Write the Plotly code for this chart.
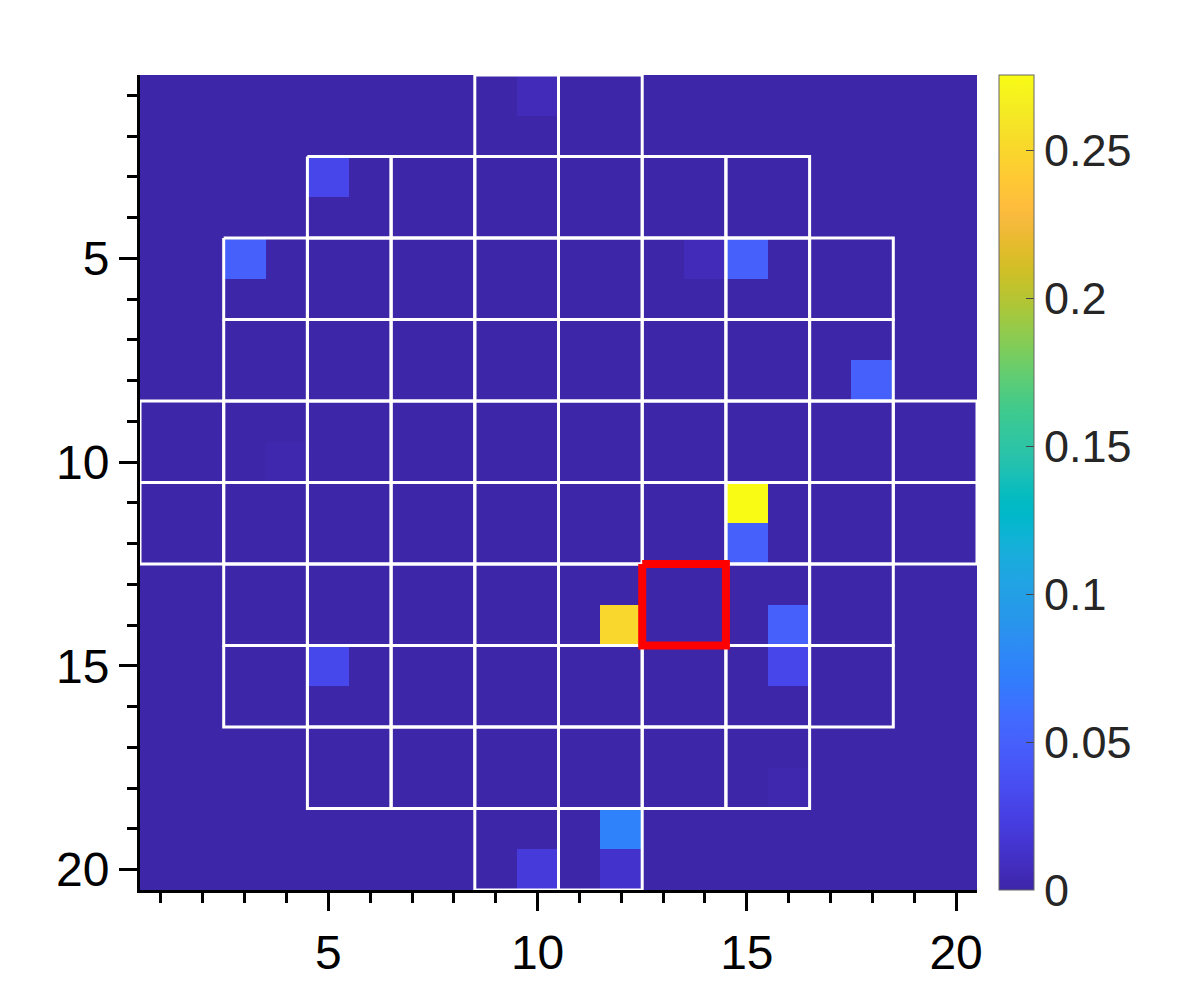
import plotly.graph_objects as go

N = 20

# non-zero cells of the 20x20 map (row = y index, col = x index, 1-based)
hot_rows = [1, 3, 5, 5, 5, 8, 10, 11, 12, 14, 14, 15, 15, 18, 19, 20, 20]
hot_cols = [10, 5, 3, 14, 15, 18, 4, 15, 15, 12, 16, 5, 16, 16, 12, 10, 12]
hot_vals = [0.006, 0.03, 0.05, 0.006, 0.05, 0.05, 0.002, 0.2755, 0.05,
            0.25, 0.05, 0.031, 0.03, 0.002, 0.075, 0.02, 0.013]

# 2x2 blocks inside the circular mask: for each block row, first and last block column
block_first = [4, 2, 1, 1, 0, 0, 1, 1, 2, 4]
block_last = [5, 7, 8, 8, 9, 9, 8, 8, 7, 5]

# highlighted cells (x range, y range)
mark_x = [13, 14]
mark_y = [13, 14]

cbar_ticks = [0, 0.05, 0.1, 0.15, 0.2, 0.25]
cbar_text = ["0", "0.05", "0.1", "0.15", "0.2", "0.25"]

parula = [
    (0.2422, 0.1504, 0.6603), (0.2504, 0.1650, 0.7076), (0.2578, 0.1818, 0.7511),
    (0.2647, 0.1978, 0.7952), (0.2706, 0.2147, 0.8364), (0.2751, 0.2342, 0.8710),
    (0.2783, 0.2559, 0.8991), (0.2803, 0.2782, 0.9221), (0.2813, 0.3006, 0.9414),
    (0.2810, 0.3228, 0.9579), (0.2795, 0.3447, 0.9717), (0.2760, 0.3667, 0.9829),
    (0.2699, 0.3892, 0.9906), (0.2602, 0.4123, 0.9952), (0.2440, 0.4358, 0.9988),
    (0.2206, 0.4603, 0.9973), (0.1963, 0.4847, 0.9892), (0.1834, 0.5074, 0.9798),
    (0.1786, 0.5289, 0.9682), (0.1764, 0.5499, 0.9520), (0.1687, 0.5703, 0.9359),
    (0.1540, 0.5902, 0.9218), (0.1460, 0.6091, 0.9079), (0.1380, 0.6276, 0.8973),
    (0.1248, 0.6459, 0.8883), (0.1113, 0.6635, 0.8763), (0.0952, 0.6798, 0.8598),
    (0.0689, 0.6948, 0.8394), (0.0297, 0.7082, 0.8163), (0.0036, 0.7203, 0.7917),
    (0.0067, 0.7312, 0.7660), (0.0433, 0.7411, 0.7394), (0.0964, 0.7500, 0.7120),
    (0.1408, 0.7584, 0.6842), (0.1717, 0.7670, 0.6554), (0.1938, 0.7758, 0.6251),
    (0.2161, 0.7843, 0.5923), (0.2470, 0.7918, 0.5567), (0.2906, 0.7973, 0.5188),
    (0.3406, 0.8008, 0.4789), (0.3909, 0.8029, 0.4354), (0.4456, 0.8024, 0.3909),
    (0.5044, 0.7993, 0.3480), (0.5616, 0.7942, 0.3045), (0.6174, 0.7876, 0.2612),
    (0.6720, 0.7793, 0.2227), (0.7242, 0.7698, 0.1910), (0.7738, 0.7598, 0.1646),
    (0.8203, 0.7498, 0.1535), (0.8634, 0.7406, 0.1596), (0.9035, 0.7330, 0.1774),
    (0.9393, 0.7288, 0.2100), (0.9728, 0.7298, 0.2394), (0.9956, 0.7434, 0.2371),
    (0.9970, 0.7659, 0.2199), (0.9952, 0.7893, 0.2028), (0.9892, 0.8136, 0.1885),
    (0.9786, 0.8386, 0.1766), (0.9676, 0.8639, 0.1643), (0.9610, 0.8890, 0.1537),
    (0.9597, 0.9135, 0.1423), (0.9628, 0.9373, 0.1265), (0.9691, 0.9606, 0.1064),
    (0.9769, 0.9839, 0.0805),
]
colorscale = [
    [i / (len(parula) - 1), "rgb(%d,%d,%d)" % tuple(round(c * 255) for c in rgb)]
    for i, rgb in enumerate(parula)
]

z = [[0.0] * N for _ in range(N)]
for r, c, v in zip(hot_rows, hot_cols, hot_vals):
    z[r - 1][c - 1] = v

axis_vals = list(range(1, N + 1))

# block outlines as one line path
gx, gy = [], []
for br, (c0, c1) in enumerate(zip(block_first, block_last)):
    y0, y1 = 0.5 + 2 * br, 2.5 + 2 * br
    for bc in range(c0, c1 + 1):
        x0, x1 = 0.5 + 2 * bc, 2.5 + 2 * bc
        gx += [x0, x1, x1, x0, x0, None]
        gy += [y0, y0, y1, y1, y0, None]

mx0, mx1 = mark_x[0] - 0.5, mark_x[-1] + 0.5
my0, my1 = mark_y[0] - 0.5, mark_y[-1] + 0.5

fig = go.Figure()
fig.add_trace(go.Heatmap(
    z=z, x=axis_vals, y=axis_vals,
    colorscale=colorscale, zmin=0, zmax=max(hot_vals),
    colorbar=dict(
        thickness=35, len=1, lenmode="fraction", y=0.5, yanchor="middle",
        x=1.026, xanchor="left", xpad=0, ypad=0,
        outlinecolor="#666", outlinewidth=1,
        ticks="inside", ticklen=8, tickwidth=1, tickcolor="#444",
        tickvals=cbar_ticks, ticktext=cbar_text,
        tickfont=dict(family="Liberation Sans, Arial", size=45, color="#262626"),
    ),
    hoverinfo="skip",
))
fig.add_trace(go.Scatter(
    x=gx, y=gy, mode="lines", line=dict(color="white", width=3),
    hoverinfo="skip", showlegend=False,
))
fig.add_trace(go.Scatter(
    x=[mx0, mx1, mx1, mx0, mx0], y=[my0, my0, my1, my1, my0], mode="lines",
    line=dict(color="#ff0000", width=8), hoverinfo="skip", showlegend=False,
))

axis_style = dict(
    showgrid=False, zeroline=False, showline=True, linecolor="black", linewidth=3,
    ticks="outside", ticklen=18, tickwidth=3, tickcolor="black",
    tickvals=[5, 10, 15, 20],
    tickfont=dict(family="Liberation Sans, Arial", size=48, color="black"),
    minor=dict(dtick=1, tick0=0, ticks="outside", ticklen=10, tickwidth=3, tickcolor="black"),
)

# page body adds 8px, so margins are shifted to keep the plot where it belongs
fig.update_layout(
    width=1177, height=1000,
    margin=dict(l=132, r=208, t=67, b=118),
    paper_bgcolor="white", plot_bgcolor="white",
    showlegend=False,
    xaxis=dict(range=[0.5, 20.5], **axis_style),
    yaxis=dict(range=[20.5, 0.5], **axis_style),
)

fig.write_html("out.html")
